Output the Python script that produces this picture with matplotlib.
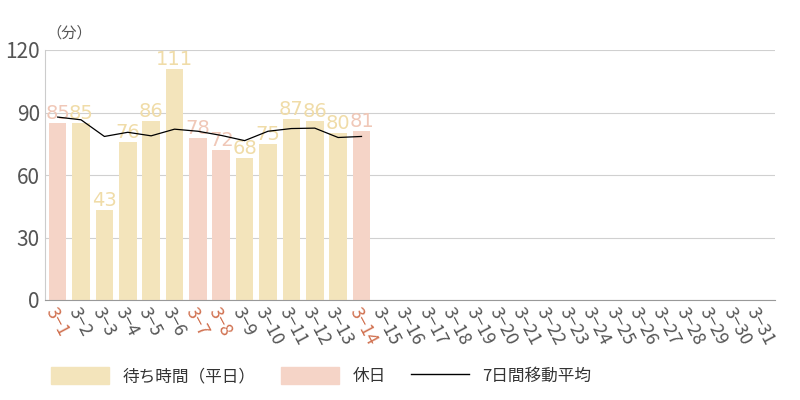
import matplotlib.pyplot as plt
from matplotlib.patches import Patch
from matplotlib.lines import Line2D

plt.rcParams['font.family'] = ['Noto Sans CJK JP', 'DejaVu Sans']

days = [f"3−{d}" for d in range(1, 32)]
waits = [85, 85, 43, 76, 86, 111, 78, 72, 68, 75, 87, 86, 80, 81]
holidays = [0, 6, 7, 13]  # indexes of 3-1, 3-7, 3-8, 3-14
moving_avg = [87.8, 86.5, 78.5, 80.5, 78.8, 82, 81, 79, 76.5, 81, 82.3, 82.5, 78, 78.5]

weekday_color = "#f3e4bb"
holiday_color = "#f5d4c7"
weekday_text = "#f0dca8"
holiday_text = "#f0c8b8"

fig = plt.figure(figsize=(8, 4), dpi=100)
ax = fig.add_axes([0.056, 0.25, 0.913, 0.625])

x = list(range(len(days)))
for i, v in enumerate(waits):
    hol = i in holidays
    ax.bar(i, v, width=0.75, color=holiday_color if hol else weekday_color, zorder=2)
    ax.text(i, v, str(v), ha="center", va="bottom", fontsize=14,
            color=holiday_text if hol else weekday_text,
            family=['Liberation Sans Narrow', 'DejaVu Sans'], zorder=3)
ax.plot(range(len(moving_avg)), moving_avg, color="black", lw=0.9, zorder=4)

ax.set_xlim(-0.55, len(days) - 0.3)
ax.set_ylim(0, 120)
ax.set_yticks([0, 30, 60, 90, 120])
ax.tick_params(axis="y", length=0, labelsize=15, labelcolor="#555555")
ax.yaxis.grid(True, color="#d0d0d0", lw=0.8, zorder=0)
for s in ["top", "right"]:
    ax.spines[s].set_visible(False)
ax.spines["left"].set_color("#cccccc")
ax.spines["bottom"].set_color("#999999")

ax.set_xticks(x)
ax.set_xticklabels(days, rotation=-62, ha="left", rotation_mode="anchor", fontsize=13)
ax.tick_params(axis="x", length=0, pad=3)
for i, lbl in enumerate(ax.get_xticklabels()):
    lbl.set_color("#d0704f" if i in holidays else "#555555")

fig.text(0.058, 0.905, "（分）", fontsize=11, color="#555555")

handles = [Patch(color=weekday_color), Patch(color=holiday_color),
           Line2D([0], [0], color="black", lw=1)]
fig.legend(handles, ["待ち時間（平日）", "休日", "7日間移動平均"], loc="lower left",
           bbox_to_anchor=(0.045, 0.0), ncol=3, frameon=False, fontsize=12,
           handlelength=3.5, handleheight=1.2, columnspacing=1.5, labelcolor="#333333")

fig.savefig("out.png", dpi=100)
